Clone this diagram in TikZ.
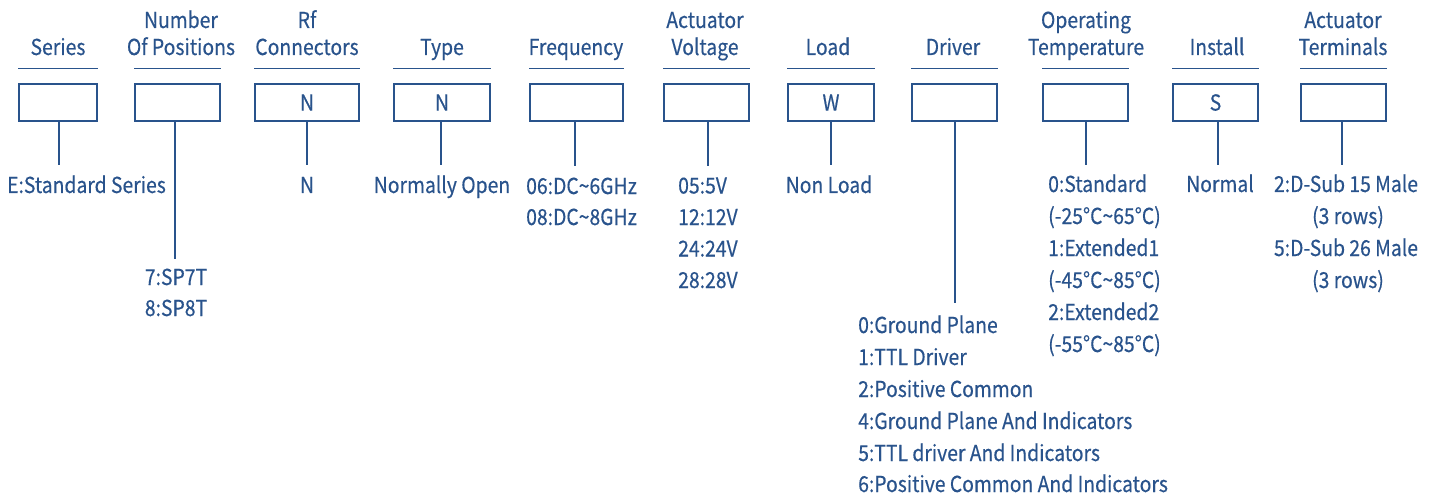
\documentclass[tikz,border=0pt]{standalone}
\usepackage{fontspec}
\setmainfont[FakeStretch=0.88,FakeBold=0.4]{Noto Sans CJK SC}
\definecolor{bl}{HTML}{29538C}
\begin{document}
\begin{tikzpicture}[x=1pt,y=-1pt,
  every node/.style={text=bl, inner sep=0pt, font=\fontsize{22}{26}\selectfont},
  hdr/.style={anchor=base},
  val/.style={anchor=base},
  lst/.style={anchor=base west},
  codebox/.style={draw=bl, line width=1.3pt, minimum height=37pt, anchor=center},
  conn/.style={draw=bl, line width=1.4pt},
  rule/.style={draw=bl, line width=1.6pt}]
\useasboundingbox (0,0) rectangle (1434,497);

% code boxes
\node[codebox, minimum width=78pt]  (b1)  at (58,102.5) {};
\node[codebox, minimum width=85pt]  (b2)  at (177.5,102.5) {};
\node[codebox, minimum width=104pt] (b3)  at (307,102.5) {N};
\node[codebox, minimum width=96pt]  (b4)  at (442,102.5) {N};
\node[codebox, minimum width=93pt]  (b5)  at (576.5,102.5) {};
\node[codebox, minimum width=85pt]  (b6)  at (706.5,102.5) {};
\node[codebox, minimum width=86pt]  (b7)  at (831,102.5) {W};
\node[codebox, minimum width=85pt]  (b8)  at (954.5,102.5) {};
\node[codebox, minimum width=85pt]  (b9)  at (1085.5,102.5) {};
\node[codebox, minimum width=85pt]  (b10) at (1215.5,102.5) {S};
\node[codebox, minimum width=85pt]  (b11) at (1343.5,102.5) {};

% header rules
\foreach \b in {b1,b2,b3,b4,b5,b6,b7,b8,b9,b10,b11}
  \draw[rule] ([yshift=15pt]\b.north west) -- ([yshift=15pt]\b.north east);

% headers
\node[hdr] (h1)  at (58,55)   {Series};
\node[hdr] (h2a) at (181,28)  {Number};
\node[hdr] (h2)  at (181,55)  {Of Positions};
\node[hdr] (h3a) at (307,28)  {Rf};
\node[hdr] (h3)  at (307,55)  {Connectors};
\node[hdr] (h4)  at (442,55)  {Type};
\node[hdr] (h5)  at (576,55)  {Frequency};
\node[hdr] (h6a) at (705,28)  {Actuator};
\node[hdr] (h6)  at (705,55)  {Voltage};
\node[hdr] (h7)  at (828,55)  {Load};
\node[hdr] (h8)  at (953,55)  {Driver};
\node[hdr] (h9a) at (1086,28) {Operating};
\node[hdr] (h9)  at (1086,55) {Temperature};
\node[hdr] (h10) at (1217,55) {Install};
\node[hdr] (h11a) at (1343,28) {Actuator};
\node[hdr] (h11) at (1343,55) {Terminals};

% connector ends
\coordinate (e1)  at (59,165);
\coordinate (e2)  at (175,259);
\coordinate (e3)  at (307,165);
\coordinate (e4)  at (441,165);
\coordinate (e5)  at (575,166);
\coordinate (e6)  at (708,166);
\coordinate (e7)  at (831,165);
\coordinate (e8)  at (955,303);
\coordinate (e9)  at (1086,165);
\coordinate (e10) at (1218,165);
\coordinate (e11) at (1342,165);
\foreach \i in {1,...,11}
  \draw[conn] (b\i.south -| e\i) -- (e\i);

% values
\node[val] (v1)  at (86.5,193) {E:Standard Series};
\node[val] (v2a) at (176,285)  {7:SP7T};
\node[val] (v2b) at (176,316)  {8:SP8T};
\node[val] (v3)  at (307,193)  {N};
\node[val] (v4)  at (442,193)  {Normally Open};
\node[lst] (v5a) at (526,194)  {06:DC\textasciitilde 6GHz};
\node[lst] (v5b) at (526,225)  {08:DC\textasciitilde 8GHz};
\node[lst] (v6a) at (678,193.5) {05:5V};
\node[lst] (v6b) at (678,225)  {12:12V};
\node[lst] (v6c) at (678,256.5) {24:24V};
\node[lst] (v6d) at (678,288)  {28:28V};
\node[val] (v7)  at (829,193)  {Non Load};
\node[lst] (v8a) at (858,333)  {0:Ground Plane};
\node[lst] (v8b) at (858,365)  {1:TTL Driver};
\node[lst] (v8c) at (858,397)  {2:Positive Common};
\node[lst] (v8d) at (858,429)  {4:Ground Plane And Indicators};
\node[lst] (v8e) at (858,461)  {5:TTL driver And Indicators};
\node[lst] (v8f) at (858,492)  {6:Positive Common And Indicators};
\node[lst] (v9a) at (1048,192) {0:Standard};
\node[lst] (v9b) at (1048,224) {(-25°C\textasciitilde 65°C)};
\node[lst] (v9c) at (1048,256) {1:Extended1};
\node[lst] (v9d) at (1048,288) {(-45°C\textasciitilde 85°C)};
\node[lst] (v9e) at (1048,320) {2:Extended2};
\node[lst] (v9f) at (1048,352) {(-55°C\textasciitilde 85°C)};
\node[val] (v10) at (1220,192) {Normal};
\node[val] (v11a) at (1346,192) {2:D-Sub 15 Male};
\node[val] (v11b) at (1348,224) {(3 rows)};
\node[val] (v11c) at (1346,256) {5:D-Sub 26 Male};
\node[val] (v11d) at (1348,288) {(3 rows)};
\end{tikzpicture}
\end{document}
